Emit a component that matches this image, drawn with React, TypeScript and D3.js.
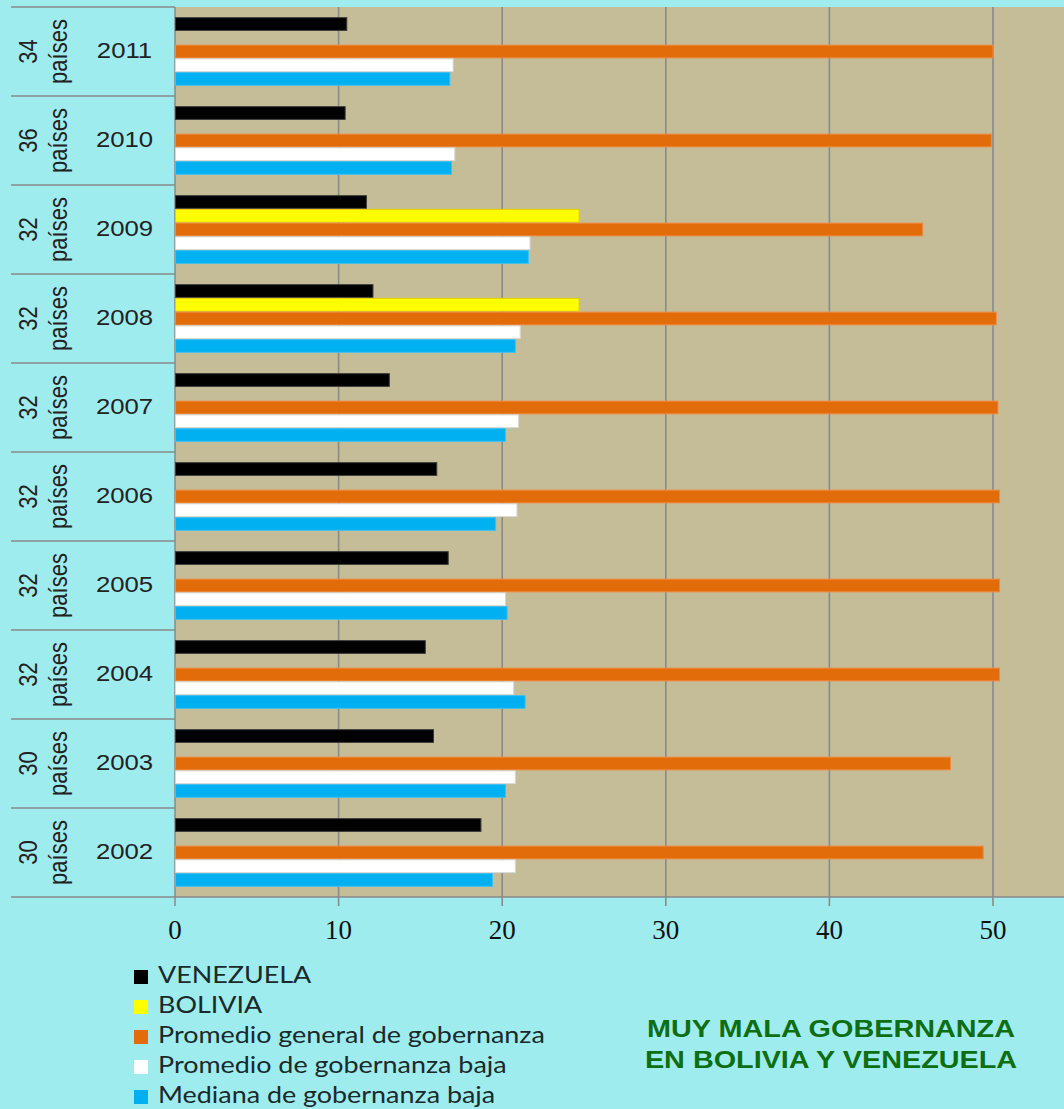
import React, { useEffect, useRef } from 'react';
import * as d3 from 'd3';

// data, bottom (2002) to top (2011)
const years = ['2002', '2003', '2004', '2005', '2006', '2007', '2008', '2009', '2010', '2011'];
const paises = ['30', '30', '32', '32', '32', '32', '32', '32', '36', '34'];
const venezuela = [18.7, 15.8, 15.3, 16.7, 16.0, 13.1, 12.1, 11.7, 10.4, 10.5];
const bolivia = [null, null, null, null, null, null, 24.7, 24.7, null, null];
const promedioGeneral = [49.4, 47.4, 50.4, 50.4, 50.4, 50.3, 50.2, 45.7, 49.9, 50.0];
const promedioBaja = [20.8, 20.8, 20.7, 20.2, 20.9, 21.0, 21.1, 21.7, 17.1, 17.0];
const medianaBaja = [19.4, 20.2, 21.4, 20.3, 19.6, 20.2, 20.8, 21.6, 16.9, 16.8];
const xTicks = [0, 10, 20, 30, 40, 50];

const seriesNames = ['VENEZUELA', 'BOLIVIA', 'Promedio general de gobernanza', 'Promedio de gobernanza baja', 'Mediana de gobernanza baja'];
const seriesValues = [venezuela, bolivia, promedioGeneral, promedioBaja, medianaBaja];
const seriesColors = ['#000000', '#ffff00', '#e36c0a', '#ffffff', '#00b0f0'];
const seriesStrokes = ['#3a3a3a', '#e8d000', '#f08a40', '#d8d8d8', '#40c0f0'];

const W = 1064, H = 1109;
const BG = '#9fecef';
const PLOT_BG = '#c4bd97';
const GRID = '#8a8a8a';
const SX = 1.17; // horizontal stretch of the original picture

const draw = (el: SVGSVGElement) => {
    const svg = d3.select(el);
    svg.selectAll('*').remove();

    const left = 175, right = W, top = 7, bottom = 897, labelLeft = 11;
    const x = d3.scaleLinear().domain([0, 50]).range([left, 993]);
    const y = d3.scaleBand().domain([...years].reverse()).range([top, bottom]);
    const inner = d3.scaleBand().domain(seriesNames).range([0, y.bandwidth()]).paddingOuter(0.74);

    svg.append('rect').attr('width', W).attr('height', H).attr('fill', BG);
    svg.append('rect').attr('x', left).attr('y', top).attr('width', right - left).attr('height', bottom - top).attr('fill', PLOT_BG);

    // gridlines + ticks
    xTicks.forEach(t => {
        svg.append('line')
            .attr('x1', x(t)).attr('x2', x(t))
            .attr('y1', top).attr('y2', bottom + 9)
            .attr('stroke', GRID).attr('stroke-width', t === 0 ? 1.5 : 1.6);
        svg.append('text')
            .attr('x', x(t)).attr('y', 939)
            .attr('text-anchor', 'middle')
            .attr('font-family', '"Liberation Serif", serif')
            .attr('font-size', 27)
            .attr('fill', '#111')
            .text(t);
    });

    // row separators in label column
    [...y.domain().map(d => y(d) as number), bottom].forEach(v => {
        svg.append('line')
            .attr('x1', labelLeft).attr('x2', left)
            .attr('y1', v).attr('y2', v)
            .attr('stroke', GRID).attr('stroke-width', 1.5);
    });
    svg.append('line')
        .attr('x1', left).attr('x2', right)
        .attr('y1', bottom).attr('y2', bottom)
        .attr('stroke', GRID).attr('stroke-width', 1.5);

    // bars
    years.forEach((yr, i) => {
        const g = svg.append('g').attr('transform', `translate(0,${y(yr)})`);
        seriesValues.forEach((vals, s) => {
            const v = vals[i];
            if (v == null) return;
            g.append('rect')
                .attr('x', x(0) + 0.5)
                .attr('y', (inner(seriesNames[s]) as number) + 0.5)
                .attr('width', x(v) - x(0) - 0.5)
                .attr('height', inner.bandwidth() - 1)
                .attr('fill', seriesColors[s])
                .attr('stroke', seriesStrokes[s])
                .attr('stroke-width', 1);
        });

        const yc = (y(yr) as number) + y.bandwidth() / 2;
        const font = '"Liberation Sans", Arial, sans-serif';
        svg.append('text')
            .attr('transform', `translate(37,${yc}) scale(${SX},1) rotate(-90)`)
            .attr('text-anchor', 'middle')
            .attr('font-family', font).attr('font-size', 22).attr('fill', '#222')
            .text(paises[i]);
        svg.append('text')
            .attr('transform', `translate(66.5,${yc}) scale(${SX},1) rotate(-90)`)
            .attr('text-anchor', 'middle')
            .attr('font-family', font).attr('font-size', 22).attr('fill', '#222')
            .text('países');
        svg.append('text')
            .attr('transform', `translate(124.5,${yc + 6.5}) scale(${SX},1)`)
            .attr('text-anchor', 'middle')
            .attr('font-family', font).attr('font-size', 22).attr('fill', '#222')
            .text(yr);
    });

    // legend
    const legendBase = [983, 1013, 1043, 1073, 1103];
    seriesNames.forEach((name, s) => {
        svg.append('rect')
            .attr('x', 134).attr('y', legendBase[s] - 13)
            .attr('width', 14).attr('height', 14)
            .attr('fill', seriesColors[s]);
        svg.append('text')
            .attr('transform', `translate(158,${legendBase[s]}) scale(1.17,1)`)
            .attr('font-family', 'Lato, "Open Sans", sans-serif')
            .attr('font-size', 23)
            .attr('fill', '#1a2a2a')
            .text(name);
    });

    // title
    ['MUY MALA GOBERNANZA', 'EN BOLIVIA Y VENEZUELA'].forEach((line, i) => {
        svg.append('text')
            .attr('transform', `translate(831,${1037 + i * 31}) scale(1.2,1)`)
            .attr('text-anchor', 'middle')
            .attr('font-family', '"Liberation Sans", Arial, sans-serif')
            .attr('font-weight', 'bold')
            .attr('font-size', 24)
            .attr('fill', '#0d6e12')
            .text(line);
    });
};

const App = () => {
    const ref = useRef<SVGSVGElement>(null);
    useEffect(() => {
        if (ref.current) draw(ref.current);
    }, []);
    return (
        <svg ref={ref} width={W} height={H} style={{ position: 'absolute', left: 0, top: 0, display: 'block' }} />
    );
};

export default App;
